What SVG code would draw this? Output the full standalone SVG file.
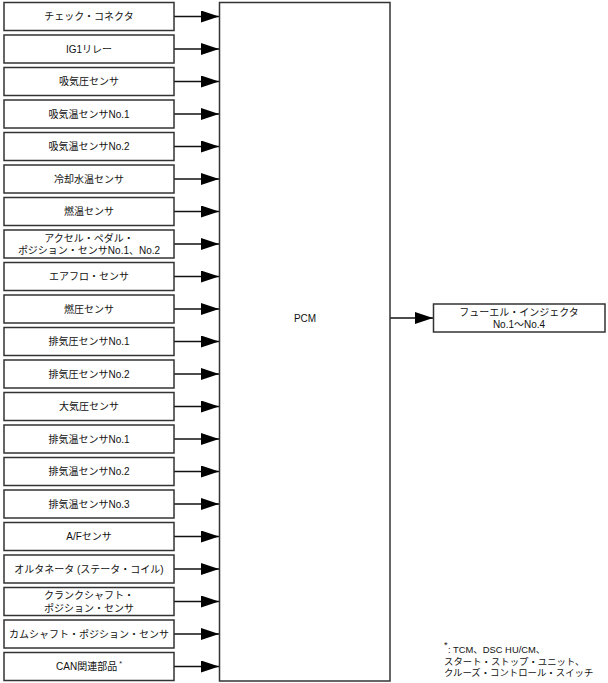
<svg xmlns="http://www.w3.org/2000/svg" width="608" height="683" viewBox="0 0 608 683">
<style>
.box{fill:#fff;stroke:#333;stroke-width:1.5}
.t{font-family:"Liberation Sans","Noto Sans CJK JP",sans-serif;font-size:10px;fill:#111;text-anchor:middle}
.f{font-family:"Liberation Sans","Noto Sans CJK JP",sans-serif;font-size:9.4px;fill:#111}
.c{stroke:#111;stroke-width:1.3;fill:none}
</style>
<defs>
<marker id="ah" markerWidth="18" markerHeight="12" refX="18" refY="6" orient="auto" markerUnits="userSpaceOnUse">
<path d="M0,0 L18,6 L0,12 Z" fill="#000"/>
</marker>
</defs>
<rect width="608" height="683" fill="#fff"/>
<g id="connectors">
<line class="c" x1="174" y1="16.5" x2="219" y2="16.5" marker-end="url(#ah)"/>
<line class="c" x1="174" y1="49" x2="219" y2="49" marker-end="url(#ah)"/>
<line class="c" x1="174" y1="81.5" x2="219" y2="81.5" marker-end="url(#ah)"/>
<line class="c" x1="174" y1="114" x2="219" y2="114" marker-end="url(#ah)"/>
<line class="c" x1="174" y1="146.5" x2="219" y2="146.5" marker-end="url(#ah)"/>
<line class="c" x1="174" y1="179" x2="219" y2="179" marker-end="url(#ah)"/>
<line class="c" x1="174" y1="211.5" x2="219" y2="211.5" marker-end="url(#ah)"/>
<line class="c" x1="174" y1="244" x2="219" y2="244" marker-end="url(#ah)"/>
<line class="c" x1="174" y1="276.5" x2="219" y2="276.5" marker-end="url(#ah)"/>
<line class="c" x1="174" y1="309" x2="219" y2="309" marker-end="url(#ah)"/>
<line class="c" x1="174" y1="341.5" x2="219" y2="341.5" marker-end="url(#ah)"/>
<line class="c" x1="174" y1="374" x2="219" y2="374" marker-end="url(#ah)"/>
<line class="c" x1="174" y1="406.5" x2="219" y2="406.5" marker-end="url(#ah)"/>
<line class="c" x1="174" y1="439" x2="219" y2="439" marker-end="url(#ah)"/>
<line class="c" x1="174" y1="471.5" x2="219" y2="471.5" marker-end="url(#ah)"/>
<line class="c" x1="174" y1="504" x2="219" y2="504" marker-end="url(#ah)"/>
<line class="c" x1="174" y1="536.5" x2="219" y2="536.5" marker-end="url(#ah)"/>
<line class="c" x1="174" y1="569" x2="219" y2="569" marker-end="url(#ah)"/>
<line class="c" x1="174" y1="601.5" x2="219" y2="601.5" marker-end="url(#ah)"/>
<line class="c" x1="174" y1="634" x2="219" y2="634" marker-end="url(#ah)"/>
<line class="c" x1="174" y1="666.5" x2="219" y2="666.5" marker-end="url(#ah)"/>
<line class="c" x1="390" y1="318" x2="433" y2="318" marker-end="url(#ah)"/>
</g>
<g id="pcm"><rect class="box" x="219.5" y="2.5" width="170.5" height="678.5"/><text class="t" x="305" y="322">PCM</text></g>
<g id="injector"><rect class="box" x="433.5" y="304" width="171.5" height="28"/><text class="t" x="519" y="315.5">フューエル・インジェクタ</text><text class="t" x="519" y="328">No.1〜No.4</text></g>
<g id="n0"><rect class="box" x="4" y="2.5" width="170" height="28"/><text class="t" x="89" y="20">チェック・コネクタ</text></g>
<g id="n1"><rect class="box" x="4" y="35" width="170" height="28"/><text class="t" x="89" y="52.5">IG1リレー</text></g>
<g id="n2"><rect class="box" x="4" y="67.5" width="170" height="28"/><text class="t" x="89" y="85">吸気圧センサ</text></g>
<g id="n3"><rect class="box" x="4" y="100" width="170" height="28"/><text class="t" x="89" y="117.5">吸気温センサNo.1</text></g>
<g id="n4"><rect class="box" x="4" y="132.5" width="170" height="28"/><text class="t" x="89" y="150">吸気温センサNo.2</text></g>
<g id="n5"><rect class="box" x="4" y="165" width="170" height="28"/><text class="t" x="89" y="182.5">冷却水温センサ</text></g>
<g id="n6"><rect class="box" x="4" y="197.5" width="170" height="28"/><text class="t" x="89" y="215">燃温センサ</text></g>
<g id="n7"><rect class="box" x="4" y="230" width="170" height="28"/><text class="t" x="89" y="241.5">アクセル・ペダル・</text><text class="t" x="89" y="254">ポジション・センサNo.1、No.2</text></g>
<g id="n8"><rect class="box" x="4" y="262.5" width="170" height="28"/><text class="t" x="89" y="280">エアフロ・センサ</text></g>
<g id="n9"><rect class="box" x="4" y="295" width="170" height="28"/><text class="t" x="89" y="312.5">燃圧センサ</text></g>
<g id="n10"><rect class="box" x="4" y="327.5" width="170" height="28"/><text class="t" x="89" y="345">排気圧センサNo.1</text></g>
<g id="n11"><rect class="box" x="4" y="360" width="170" height="28"/><text class="t" x="89" y="377.5">排気圧センサNo.2</text></g>
<g id="n12"><rect class="box" x="4" y="392.5" width="170" height="28"/><text class="t" x="89" y="410">大気圧センサ</text></g>
<g id="n13"><rect class="box" x="4" y="425" width="170" height="28"/><text class="t" x="89" y="442.5">排気温センサNo.1</text></g>
<g id="n14"><rect class="box" x="4" y="457.5" width="170" height="28"/><text class="t" x="89" y="475">排気温センサNo.2</text></g>
<g id="n15"><rect class="box" x="4" y="490" width="170" height="28"/><text class="t" x="89" y="507.5">排気温センサNo.3</text></g>
<g id="n16"><rect class="box" x="4" y="522.5" width="170" height="28"/><text class="t" x="89" y="540">A/Fセンサ</text></g>
<g id="n17"><rect class="box" x="4" y="555" width="170" height="28"/><text class="t" x="89" y="572.5">オルタネータ (ステータ・コイル)</text></g>
<g id="n18"><rect class="box" x="4" y="587.5" width="170" height="28"/><text class="t" x="89" y="599">クランクシャフト・</text><text class="t" x="89" y="611.5">ポジション・センサ</text></g>
<g id="n19"><rect class="box" x="4" y="620" width="170" height="28"/><text class="t" x="89" y="637.5">カムシャフト・ポジション・センサ</text></g>
<g id="n20"><rect class="box" x="4" y="652.5" width="170" height="28"/><text class="t" x="89" y="670">CAN関連部品<tspan font-size="7" dy="-4"> *</tspan></text></g>
<g id="footnote">
<text class="f" x="444" y="648" font-size="7">*</text>
<text class="f" x="448" y="653">: TCM、DSC HU/CM、</text>
<text class="f" x="444" y="665">スタート・ストップ・ユニット、</text>
<text class="f" x="444" y="676">クルーズ・コントロール・スイッチ</text>
</g>
</svg>
